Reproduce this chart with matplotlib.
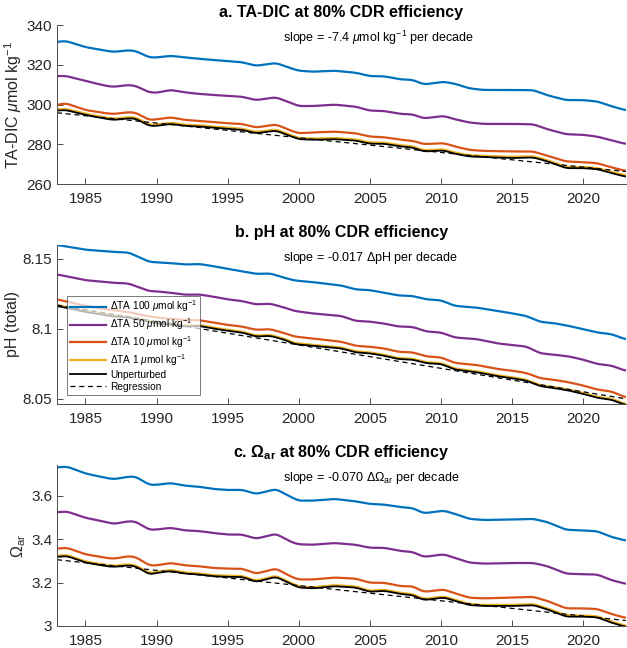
import numpy as np
import matplotlib
matplotlib.use('Agg')
import matplotlib.pyplot as plt
from matplotlib.ticker import FixedLocator

plt.rcParams['font.family'] = ['Liberation Sans', 'DejaVu Sans']
plt.rcParams['mathtext.fontset'] = 'custom'
plt.rcParams['mathtext.rm'] = 'Liberation Sans'
plt.rcParams['mathtext.it'] = 'Liberation Sans:italic'
plt.rcParams['mathtext.bf'] = 'Liberation Sans:bold'

### DATA
# panel a: TA-DIC (umol/kg)
a_years = [1983.0, 1983.6, 1985.0, 1986.5, 1987.0, 1988.0, 1988.5, 1989.5, 1990.0, 1991.0,
           1992.0, 1993.0, 1995.0, 1996.0, 1997.0, 1998.4, 1999.5, 2000.0, 2001.0, 2002.5,
           2004.0, 2005.0, 2006.0, 2007.2, 2008.0, 2008.8, 2010.2, 2011.0, 2012.0, 2013.0,
           2015.0, 2016.5, 2017.5, 2018.8, 2020.0, 2021.0, 2022.0, 2023.0]
a_ta100 = [331.6, 332.1, 329.0, 327.1, 326.6, 327.4, 327.1, 323.8, 323.8, 324.6,
           323.8, 323.1, 321.9, 321.4, 319.6, 321.0, 318.2, 317.1, 316.6, 317.1,
           316.1, 314.4, 314.3, 312.7, 312.5, 310.2, 311.5, 310.5, 308.2, 307.4,
           307.4, 307.3, 304.7, 302.3, 302.3, 301.6, 299.2, 297.2]
a_ta50 = [314.4, 314.5, 311.9, 309.4, 309.0, 309.9, 309.5, 306.2, 306.0, 307.4,
          306.2, 305.4, 304.4, 304.0, 302.3, 303.7, 300.7, 299.3, 299.3, 300.0,
          299.0, 297.0, 296.8, 295.3, 295.1, 293.1, 294.3, 292.6, 291.0, 290.3,
          290.3, 290.1, 287.6, 285.1, 284.8, 283.9, 282.0, 280.2]
a_ta10 = [299.8, 300.7, 297.3, 295.6, 295.3, 296.2, 296.0, 292.3, 292.6, 293.6,
          292.3, 291.8, 290.6, 290.3, 288.5, 290.0, 286.8, 285.6, 286.0, 286.4,
          285.6, 283.9, 283.6, 282.3, 281.8, 280.1, 280.6, 278.9, 277.2, 276.7,
          276.4, 276.4, 274.2, 271.4, 271.0, 270.5, 268.4, 266.6]
a_ta1 = [297.6, 297.9, 295.4, 293.4, 292.9, 293.7, 293.6, 289.9, 289.9, 290.9,
         289.9, 289.6, 288.4, 287.9, 286.2, 287.5, 284.5, 283.2, 282.9, 283.2,
         282.5, 280.9, 280.9, 279.5, 279.0, 277.0, 277.5, 275.8, 274.5, 274.2,
         273.7, 274.0, 272.0, 268.6, 268.6, 268.1, 266.1, 264.3]
a_unpert = [297.0, 297.3, 294.8, 292.8, 292.3, 293.1, 293.0, 289.3, 289.3, 290.3,
            289.3, 289.0, 287.8, 287.3, 285.6, 286.9, 283.9, 282.6, 282.3, 282.6,
            281.9, 280.3, 280.3, 278.9, 278.4, 276.4, 276.9, 275.2, 273.9, 273.6,
            273.1, 273.4, 271.4, 268.0, 268.0, 267.5, 265.5, 263.7]
a_reg = [295.9, 266.3]

# panel b: pH (total)
b_years = [1983, 1985, 1987, 1988, 1989.5, 1990, 1991, 1992, 1993, 1994,
           1995, 1996, 1997, 1998, 1999, 1999.7, 2001, 2003, 2004, 2005,
           2006, 2007, 2008, 2009, 2010, 2011, 2012.5, 2014, 2015, 2016,
           2017, 2018, 2019, 2020, 2021, 2022, 2023]
b_ta100 = [8.1600, 8.1566, 8.1550, 8.1547, 8.1479, 8.1476, 8.1470, 8.1460, 8.1464, 8.1448,
           8.1429, 8.1412, 8.1393, 8.1396, 8.1365, 8.1346, 8.1334, 8.1310, 8.1282, 8.1277,
           8.1258, 8.1239, 8.1235, 8.1211, 8.1204, 8.1164, 8.1152, 8.1128, 8.1111, 8.1092,
           8.1050, 8.1040, 8.1021, 8.0998, 8.0974, 8.0962, 8.0925]
b_ta50 = [8.1389, 8.1348, 8.1329, 8.1325, 8.1270, 8.1268, 8.1258, 8.1244, 8.1246, 8.1230,
          8.1211, 8.1199, 8.1175, 8.1180, 8.1152, 8.1128, 8.1110, 8.1092, 8.1057, 8.1052,
          8.1038, 8.1017, 8.1014, 8.0981, 8.0974, 8.0938, 8.0927, 8.0896, 8.0884, 8.0874,
          8.0825, 8.0815, 8.0803, 8.0780, 8.0749, 8.0737, 8.0700]
b_ta10 = [8.1211, 8.1164, 8.1133, 8.1121, 8.1088, 8.1081, 8.1073, 8.1062, 8.1062, 8.1045,
          8.1028, 8.1017, 8.0993, 8.0998, 8.0969, 8.0945, 8.0931, 8.0908, 8.0879, 8.0872,
          8.0860, 8.0836, 8.0832, 8.0803, 8.0796, 8.0756, 8.0742, 8.0713, 8.0701, 8.0685,
          8.0647, 8.0635, 8.0618, 8.0595, 8.0566, 8.0552, 8.0510]
b_ta1 = [8.1171, 8.1128, 8.1095, 8.1088, 8.1057, 8.1045, 8.1038, 8.1024, 8.1028, 8.1009,
         8.0993, 8.0981, 8.0952, 8.0957, 8.0929, 8.0898, 8.0886, 8.0867, 8.0839, 8.0832,
         8.0815, 8.0791, 8.0787, 8.0761, 8.0756, 8.0716, 8.0697, 8.0668, 8.0654, 8.0637,
         8.0597, 8.0583, 8.0566, 8.0542, 8.0514, 8.0500, 8.0462]
b_unpert = [8.1164, 8.1121, 8.1088, 8.1081, 8.1050, 8.1038, 8.1031, 8.1017, 8.1021, 8.1002,
            8.0986, 8.0974, 8.0945, 8.0950, 8.0922, 8.0891, 8.0879, 8.0860, 8.0832, 8.0825,
            8.0808, 8.0784, 8.0780, 8.0754, 8.0749, 8.0709, 8.0690, 8.0661, 8.0647, 8.0630,
            8.0590, 8.0576, 8.0559, 8.0535, 8.0507, 8.0493, 8.0455]
b_reg = [8.1170, 8.0500]

# panel c: omega aragonite
c_years = [1983.0, 1983.7, 1985.0, 1986.5, 1987.0, 1988.0, 1988.5, 1989.5, 1990.0, 1991.0,
           1992.0, 1993.0, 1994.0, 1995.0, 1996.0, 1997.0, 1998.4, 1999.5, 2000.0, 2001.0,
           2002.5, 2004.0, 2005.0, 2006.0, 2007.2, 2008.0, 2008.8, 2010.2, 2011.0, 2012.0,
           2013.0, 2015.0, 2016.5, 2017.5, 2018.8, 2020.0, 2021.0, 2022.0, 2023.0]
c_ta100 = [3.730, 3.734, 3.702, 3.681, 3.676, 3.687, 3.688, 3.650, 3.650, 3.658,
           3.646, 3.641, 3.631, 3.626, 3.627, 3.608, 3.630, 3.592, 3.577, 3.577,
           3.585, 3.574, 3.562, 3.559, 3.547, 3.543, 3.519, 3.531, 3.516, 3.493,
           3.488, 3.490, 3.493, 3.478, 3.443, 3.440, 3.436, 3.410, 3.393]
c_ta50 = [3.524, 3.527, 3.498, 3.478, 3.470, 3.482, 3.481, 3.443, 3.444, 3.452,
          3.440, 3.437, 3.428, 3.421, 3.421, 3.402, 3.424, 3.386, 3.376, 3.374,
          3.382, 3.374, 3.360, 3.360, 3.345, 3.341, 3.318, 3.330, 3.313, 3.292,
          3.287, 3.290, 3.290, 3.275, 3.241, 3.238, 3.237, 3.211, 3.194]
c_ta10 = [3.356, 3.360, 3.330, 3.313, 3.310, 3.321, 3.318, 3.279, 3.279, 3.290,
          3.279, 3.275, 3.267, 3.264, 3.264, 3.241, 3.264, 3.226, 3.214, 3.214,
          3.223, 3.218, 3.199, 3.199, 3.183, 3.183, 3.157, 3.168, 3.150, 3.130,
          3.127, 3.131, 3.134, 3.115, 3.081, 3.081, 3.078, 3.055, 3.037]
c_ta1 = [3.323, 3.327, 3.297, 3.280, 3.277, 3.284, 3.280, 3.243, 3.249, 3.258,
         3.246, 3.242, 3.234, 3.231, 3.231, 3.208, 3.231, 3.197, 3.182, 3.178,
         3.188, 3.182, 3.162, 3.167, 3.152, 3.147, 3.124, 3.136, 3.121, 3.101,
         3.097, 3.097, 3.101, 3.081, 3.048, 3.048, 3.045, 3.020, 3.001]
c_unpert = [3.318, 3.322, 3.292, 3.275, 3.272, 3.279, 3.275, 3.238, 3.244, 3.253,
            3.241, 3.237, 3.229, 3.226, 3.226, 3.203, 3.226, 3.192, 3.177, 3.173,
            3.183, 3.177, 3.157, 3.162, 3.147, 3.142, 3.119, 3.131, 3.116, 3.096,
            3.092, 3.092, 3.096, 3.076, 3.043, 3.043, 3.040, 3.015, 2.996]
c_reg = [3.305, 3.025]

reg_years = [1983, 2023]
x_ticks = [1985, 1990, 1995, 2000, 2005, 2010, 2015, 2020]

series_labels = [r'$\Delta$TA 100 $\mu$mol kg$^{-1}$',
                 r'$\Delta$TA 50 $\mu$mol kg$^{-1}$',
                 r'$\Delta$TA 10 $\mu$mol kg$^{-1}$',
                 r'$\Delta$TA 1 $\mu$mol kg$^{-1}$',
                 'Unperturbed', 'Regression']
colors = ['#0072BD', '#7E2F8E', '#D95319', '#EDB120']

panels = [
    dict(years=a_years, series=[a_ta100, a_ta50, a_ta10, a_ta1], unpert=a_unpert, reg=a_reg,
         ylim=(260, 340), yticks=[260, 280, 300, 320, 340],
         yticklabels=['260', '280', '300', '320', '340'],
         ylabel=r'TA-DIC $\mu$mol kg$^{-1}$',
         title='a. TA-DIC at 80% CDR efficiency',
         slope=r'slope = -7.4 $\mu$mol kg$^{-1}$ per decade',
         pos=[0.091, 0.716, 0.907, 0.245]),
    dict(years=b_years, series=[b_ta100, b_ta50, b_ta10, b_ta1], unpert=b_unpert, reg=b_reg,
         ylim=(8.0465, 8.16), yticks=[8.05, 8.1, 8.15],
         yticklabels=['8.05', '8.1', '8.15'],
         ylabel='pH (total)',
         title='b. pH at 80% CDR efficiency',
         slope=r'slope = -0.017 $\Delta$pH per decade',
         pos=[0.091, 0.377, 0.907, 0.245]),
    dict(years=c_years, series=[c_ta100, c_ta50, c_ta10, c_ta1], unpert=c_unpert, reg=c_reg,
         ylim=(3.0, 3.74), yticks=[3.0, 3.2, 3.4, 3.6],
         yticklabels=['3', '3.2', '3.4', '3.6'],
         ylabel=r'$\Omega_{\rm ar}$',
         title=r'c. $\mathbf{\Omega_{ar}}$ at 80% CDR efficiency',
         slope=r'slope = -0.070 $\Delta\Omega_{\rm ar}$ per decade',
         pos=[0.091, 0.034, 0.907, 0.248]),
]


def smooth_curve(years, vals):
    # resample the read-off points monthly and round the corners a little
    t = np.arange(years[0], years[-1] + 1e-9, 1 / 12)
    v = np.interp(t, years, vals)
    k = 7
    vp = np.pad(v, k // 2, mode='edge')
    return t, np.convolve(vp, np.ones(k) / k, mode='valid')


fig = plt.figure(figsize=(6.27, 6.48), dpi=100)
spine_col = '#4d4d4d'

for i, p in enumerate(panels):
    ax = fig.add_axes(p['pos'])
    for vals, col in zip(p['series'], colors):
        t, v = smooth_curve(p['years'], vals)
        ax.plot(t, v, color=col, lw=1.6)
    t, v = smooth_curve(p['years'], p['unpert'])
    ax.plot(t, v, color='black', lw=1.3)
    ax.plot(reg_years, p['reg'], color='black', lw=0.9, ls=(0, (4, 3)))

    ax.set_xlim(1983, 2023)
    ax.set_ylim(*p['ylim'])
    ax.xaxis.set_major_locator(FixedLocator(x_ticks))
    ax.set_yticks(p['yticks'])
    ax.set_yticklabels(p['yticklabels'])
    ax.tick_params(direction='in', length=4, width=0.7, color=spine_col,
                   labelsize=11, labelcolor='#262626')
    ax.tick_params(axis='x', pad=6)
    for s in ['top', 'right']:
        ax.spines[s].set_visible(False)
    for s in ['left', 'bottom']:
        ax.spines[s].set_color(spine_col)
        ax.spines[s].set_linewidth(0.7)

    ax.set_ylabel(p['ylabel'], fontsize=11.5, color='#262626', labelpad=2)
    ax.set_title(p['title'], fontsize=11.5, fontweight='bold', pad=6)
    ax.text(0.397, 0.92, p['slope'], transform=ax.transAxes, fontsize=9,
            ha='left', va='center')

    if i == 1:
        leg = ax.legend(series_labels, loc='lower left', bbox_to_anchor=(0.017, 0.055),
                        fontsize=7.3, frameon=True, fancybox=False, framealpha=0.7,
                        edgecolor='#404040', handlelength=3.6, handletextpad=0.35,
                        labelspacing=0.2, borderpad=0.3, borderaxespad=0)
        leg.get_frame().set_linewidth(0.7)

fig.savefig('out.png', dpi=100)
